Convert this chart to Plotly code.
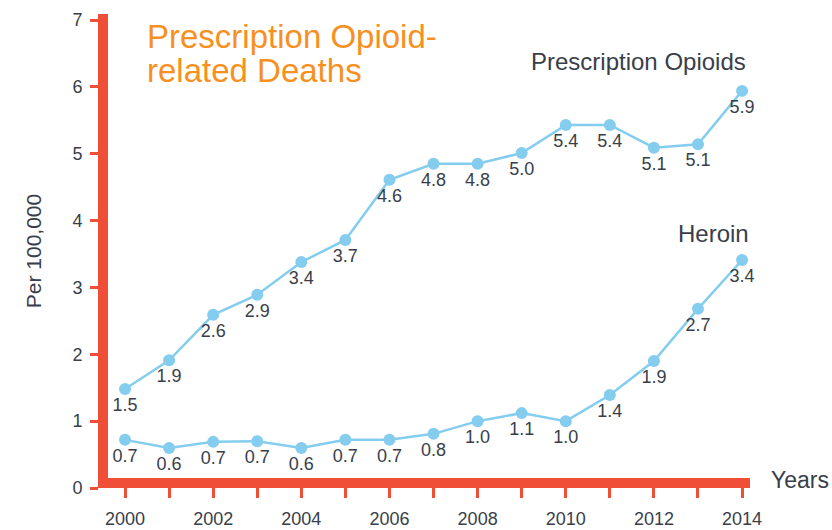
import plotly.graph_objects as go

years = list(range(2000, 2015))
rx_values = [1.48, 1.91, 2.59, 2.89, 3.38, 3.71, 4.61, 4.85, 4.85, 5.01, 5.43, 5.43, 5.09, 5.14, 5.94]
rx_labels = ["1.5", "1.9", "2.6", "2.9", "3.4", "3.7", "4.6", "4.8", "4.8", "5.0", "5.4", "5.4", "5.1", "5.1", "5.9"]
heroin_values = [0.72, 0.60, 0.69, 0.70, 0.60, 0.72, 0.72, 0.81, 1.00, 1.12, 1.00, 1.39, 1.90, 2.68, 3.41]
heroin_labels = ["0.7", "0.6", "0.7", "0.7", "0.6", "0.7", "0.7", "0.8", "1.0", "1.1", "1.0", "1.4", "1.9", "2.7", "3.4"]
x_ticktext = [str(y) if y % 2 == 0 else "" for y in years]
y_ticks = [0, 1, 2, 3, 4, 5, 6, 7]

RED = "#f04e37"
BLUE = "#84cdee"
DARK = "#393e4a"
ORANGE = "#f7901e"
FONT = "Liberation Sans, Arial, sans-serif"

W, H = 832, 530
L, R, T, B = 98, 82, 14, 42
PW, PH = W - L - R, H - T - B


def px(x, y):
    """pixel position -> paper coordinates"""
    return (x - L) / PW, (H - B - y) / PH


fig = go.Figure()
for vals, labs, name in [(rx_values, rx_labels, "Prescription Opioids"), (heroin_values, heroin_labels, "Heroin")]:
    fig.add_trace(go.Scatter(
        x=years, y=vals, mode="lines+markers+text", name=name,
        text=labs, textposition="bottom center",
        textfont=dict(family=FONT, size=18, color=DARK),
        line=dict(color=BLUE, width=2.5),
        marker=dict(color=BLUE, size=12),
        cliponaxis=False,
    ))

annots = []
for text, (x, y), size, color, anchor in [
    ("Prescription Opioid-", (145, 37), 33, ORANGE, "left"),
    ("related Deaths", (145, 70), 33, ORANGE, "left"),
    ("Prescription Opioids", (638, 62), 24, DARK, "center"),
    ("Heroin", (713, 233), 24, DARK, "center"),
    ("Years", (800, 480), 23, DARK, "center"),
]:
    xp, yp = px(x, y)
    annots.append(dict(text=text, x=xp, y=yp, xref="paper", yref="paper", showarrow=False,
                       align="left", xanchor=anchor, yanchor="middle",
                       font=dict(family=FONT, size=size, color=color)))

fig.update_layout(
    width=W, height=H,
    margin=dict(l=L, r=R, t=T, b=B, autoexpand=False),
    paper_bgcolor="white", plot_bgcolor="white",
    showlegend=False,
    font=dict(family=FONT, color=DARK),
    xaxis=dict(
        range=[1999.387, 2014.18], tickvals=years, ticktext=x_ticktext,
        anchor="free", position=px(0, 482.5)[1],
        showgrid=False, zeroline=False, automargin=False,
        showline=True, linecolor=RED, linewidth=10,
        ticks="outside", ticklen=10, tickwidth=3, tickcolor=RED,
        ticklabelstandoff=6,
        tickfont=dict(family=FONT, size=18, color=DARK),
    ),
    yaxis=dict(
        range=[0, 7.09], tickvals=y_ticks,
        anchor="free", position=px(103, 0)[0],
        showgrid=False, zeroline=False, automargin=False,
        showline=True, linecolor=RED, linewidth=10,
        ticks="outside", ticklen=8, tickwidth=3, tickcolor=RED,
        ticklabelstandoff=4,
        tickfont=dict(family=FONT, size=18, color=DARK),
        title=dict(text="Per 100,000", font=dict(family=FONT, size=21, color=DARK), standoff=24),
    ),
    annotations=annots,
)

fig.write_html("out.html", config={"displayModeBar": False},
               post_script="document.body.style.margin='0';document.body.style.overflow='hidden';")
